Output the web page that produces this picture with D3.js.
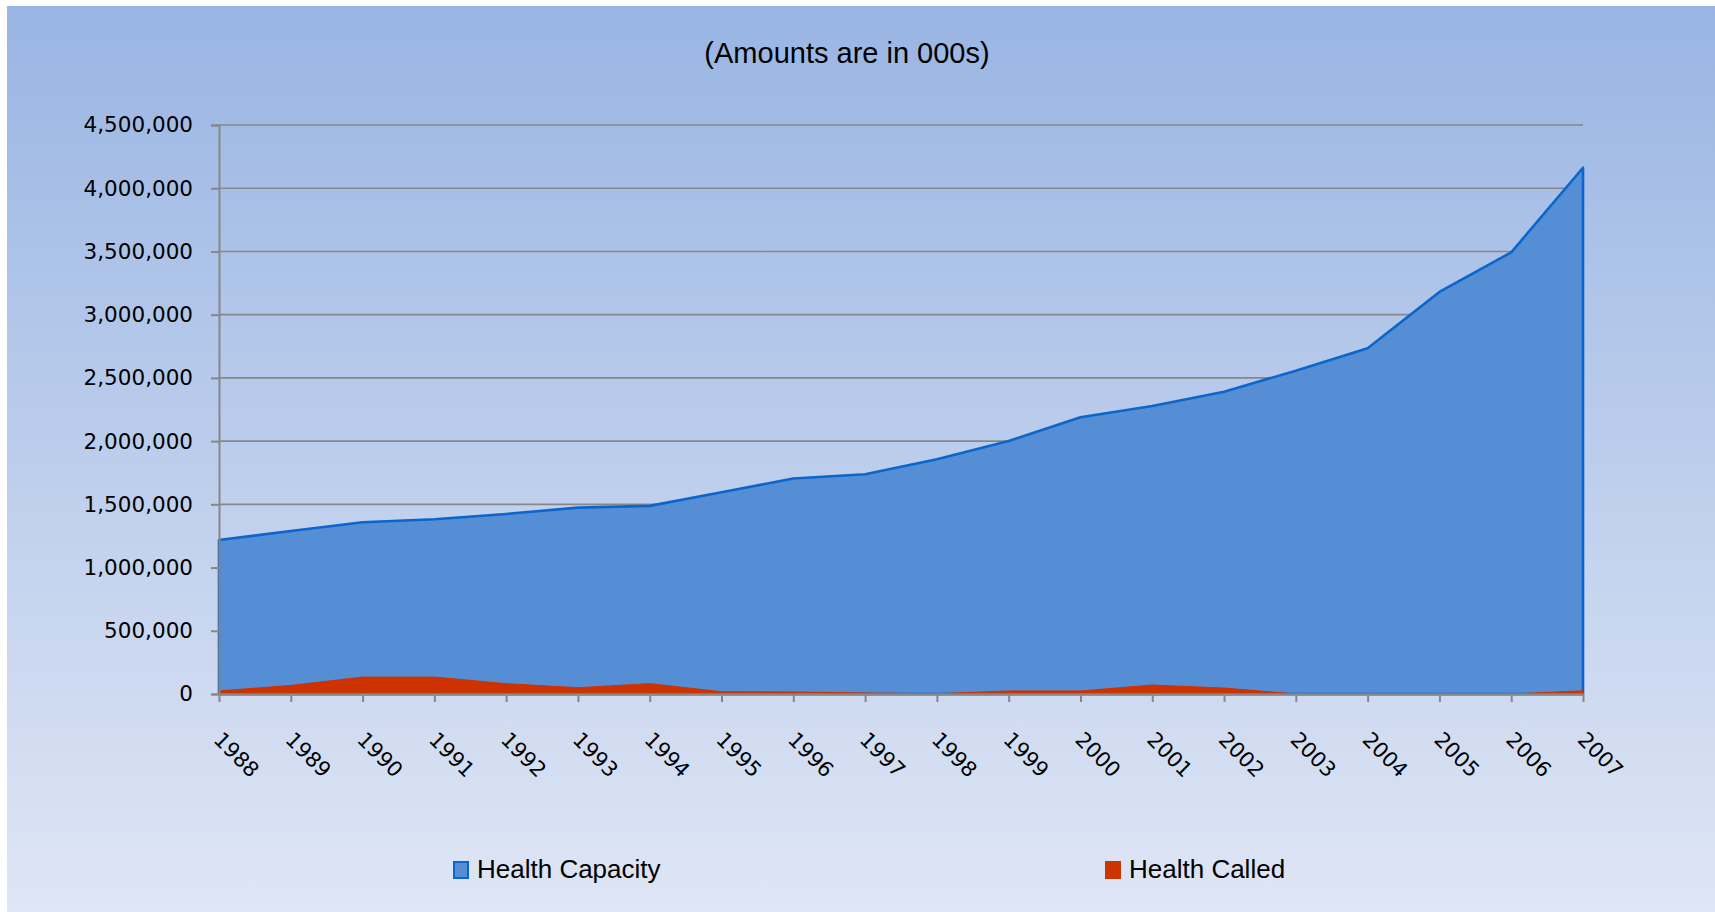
<!DOCTYPE html>
<html>
<head>
<meta charset="utf-8">
<script src="https://cdnjs.cloudflare.com/ajax/libs/d3/7.8.5/d3.min.js"></script>
<style>
  body { margin: 0; background: #ffffff; }
  svg { display: block; }
</style>
</head>
<body>
<div id="chart"></div>
<script>
// chart data (amounts in 000s)
var years = ["1988","1989","1990","1991","1992","1993","1994","1995","1996","1997",
             "1998","1999","2000","2001","2002","2003","2004","2005","2006","2007"];
var healthCapacity = [1218000, 1289000, 1358000, 1382000, 1424000, 1474000, 1488000, 1596000, 1704000, 1738000,
                      1857000, 2001000, 2188000, 2278000, 2391000, 2557000, 2734000, 3180000, 3493000, 4162000];
var healthCalled = [24000, 68000, 134000, 134000, 82000, 50000, 82000, 18000, 16000, 8000,
                    2000, 24000, 24000, 71000, 47000, 0, 0, 0, 0, 25000];
var yTicks = [0, 500000, 1000000, 1500000, 2000000, 2500000, 3000000, 3500000, 4000000, 4500000];
var seriesNames = ["Health Capacity", "Health Called"];

var W = 1715, H = 912;
var margin = {top: 125, right: 132, bottom: 218, left: 219};
var width = W - margin.left - margin.right;
var height = H - margin.top - margin.bottom;

var svg = d3.select("#chart").append("svg")
    .attr("width", W)
    .attr("height", H);

// background gradient
var defs = svg.append("defs");
var grad = defs.append("linearGradient")
    .attr("id", "bg")
    .attr("x1", 0).attr("y1", 0).attr("x2", 0).attr("y2", 1);
grad.append("stop").attr("offset", "0%").attr("stop-color", "#99b5e3");
grad.append("stop").attr("offset", "100%").attr("stop-color", "#dfe6f5");

svg.append("rect")
    .attr("x", 7).attr("y", 6)
    .attr("width", W - 7).attr("height", H - 6)
    .attr("fill", "url(#bg)");

// title
svg.append("text")
    .attr("x", 847).attr("y", 63)
    .attr("text-anchor", "middle")
    .style("font-family", "'Liberation Sans', Arial, sans-serif")
    .style("font-size", "29px")
    .attr("fill", "#000")
    .text("(Amounts are in 000s)");

var g = svg.append("g")
    .attr("transform", "translate(" + margin.left + "," + margin.top + ")");

// scales
var x = d3.scalePoint().domain(years).range([0, width]);
var y = d3.scaleLinear().domain([0, 4500000]).range([height, 0]);

// gridlines
g.selectAll(".grid")
    .data(yTicks.slice(1))
    .enter().append("line")
        .attr("class", "grid")
        .attr("x1", 0).attr("x2", width)
        .attr("y1", function(d){ return y(d); })
        .attr("y2", function(d){ return y(d); })
        .attr("stroke", "#878787")
        .attr("stroke-width", 1.6);

// areas
var capData = years.map(function(yr, i){ return {year: yr, v: healthCapacity[i]}; });
var calData = years.map(function(yr, i){ return {year: yr, v: healthCalled[i]}; });

var area = d3.area()
    .x(function(d){ return x(d.year); })
    .y0(y(0))
    .y1(function(d){ return y(d.v); });

g.append("path")
    .datum(capData)
    .attr("d", function(d){ return area(d) + "Z"; })
    .attr("fill", "#558ed5")
    .attr("stroke", "#0a66cc")
    .attr("stroke-width", 2.6)
    .attr("stroke-linejoin", "round");

g.append("path")
    .datum(calData)
    .attr("d", area)
    .attr("fill", "#cc3300")
    .attr("stroke", "#cc3300")
    .attr("stroke-width", 1);

// y axis
var yAxis = d3.axisLeft(y)
    .tickValues(yTicks)
    .tickSize(8)
    .tickPadding(18)
    .tickFormat(d3.format(","));

var yg = g.append("g").call(yAxis);
yg.select(".domain").attr("stroke", "#878787").attr("stroke-width", 2);
yg.selectAll(".tick line").attr("stroke", "#878787").attr("stroke-width", 2);
yg.selectAll(".tick text")
    .style("font-family", "'DejaVu Sans', Verdana, sans-serif")
    .style("font-size", "21.5px")
    .attr("fill", "#000");

// x axis
var xAxis = d3.axisBottom(x)
    .tickSize(8)
    .tickSizeOuter(0);

var xg = g.append("g")
    .attr("transform", "translate(0," + height + ")")
    .call(xAxis);
xg.select(".domain").attr("stroke", "#878787").attr("stroke-width", 2.5);
xg.selectAll(".tick line").attr("stroke", "#878787").attr("stroke-width", 2);
xg.selectAll(".tick text")
    .style("font-family", "'DejaVu Sans', Verdana, sans-serif")
    .style("font-size", "21px")
    .attr("fill", "#000")
    .attr("text-anchor", "start")
    .attr("x", 0).attr("y", 0).attr("dy", 0)
    .attr("transform", "translate(-7,47) rotate(45)");

// legend
var legendColors = [{fill: "#558ed5", stroke: "#0a66cc"}, {fill: "#cc3300", stroke: "#cc3300"}];
var legendX = [453, 1105];

var legend = svg.selectAll(".legend")
    .data(seriesNames)
    .enter().append("g")
        .attr("class", "legend")
        .attr("transform", function(d, i){ return "translate(" + legendX[i] + ",861)"; });

legend.append("rect")
    .attr("x", 1).attr("y", 1)
    .attr("width", 14).attr("height", 16)
    .attr("fill", function(d, i){ return legendColors[i].fill; })
    .attr("stroke", function(d, i){ return legendColors[i].stroke; })
    .attr("stroke-width", 2);

legend.append("text")
    .attr("x", 24).attr("y", 17)
    .style("font-family", "'Liberation Sans', Arial, sans-serif")
    .style("font-size", "26px")
    .attr("fill", "#000")
    .text(function(d){ return d; });
</script>
</body>
</html>
